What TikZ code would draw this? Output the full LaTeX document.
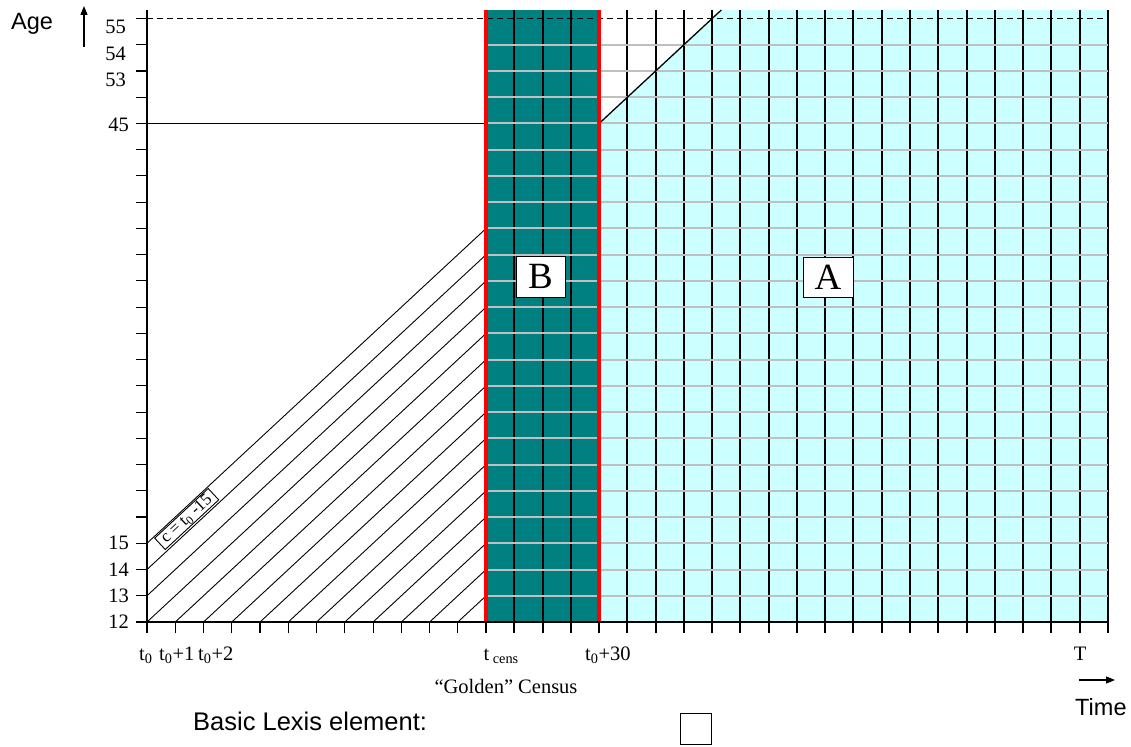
\documentclass[tikz,border=0pt]{standalone}
\usepackage{fontspec}
\setmainfont{Liberation Serif}
\newfontfamily\arialfam{Liberation Sans}
\usetikzlibrary{arrows.meta}
\definecolor{tealB}{HTML}{008080}
\definecolor{cyanA}{HTML}{CCFFFF}
\definecolor{gridgray}{HTML}{C0C0C0}
\definecolor{censred}{HTML}{FF0000}
\newcommand\fsTimes{\fontsize{20.5}{20.5}\selectfont}
\newcommand\fsArial{\arialfam\fontsize{23.5}{23.5}\selectfont}
\begin{document}
\begin{tikzpicture}[x=1pt,y=-1pt,
  tlab/.style={font=\fsTimes, inner sep=0pt},
  alab/.style={font=\fsArial, inner sep=0pt},
  gline/.style={draw=gridgray, line width=2pt},
  vline/.style={draw=black, line width=1.5pt},
  hatch/.style={draw=black, line width=0.9pt},
  axisline/.style={draw=black, line width=1.3pt},
  tickline/.style={draw=black, line width=1.1pt},
  redline/.style={draw=censred, line width=4pt},
  regionlabel/.style={draw=black, fill=white, line width=0.9pt, inner sep=0pt, font=\fontsize{37}{37}\selectfont},
  arr/.style={-{Triangle[length=9pt,width=7pt]}, line width=1.3pt}]
\useasboundingbox (0,0) rectangle (1131,746);
% key coordinates
\coordinate (O) at (147,622);
\coordinate (ytop) at (147,10);
\coordinate (xend) at (1108,622);
\coordinate (cens) at (486.12,622);
\coordinate (censtop) at (486.12,10);
\coordinate (t30) at (599.16,622);
\coordinate (t30top) at (599.16,10);
\coordinate (t30a45) at (599.16,123.44);
\coordinate (diagtop) at (721.3,10);
\coordinate (a45) at (147,123.44);
\coordinate (cens45) at (486.12,123.44);
% fills
\fill[cyanA] (t30) -- (t30a45) -- (diagtop) -- (1108,10) -- (xend) -- cycle;
\fill[tealB] (censtop) rectangle (t30);
% vertical lines in right region
\foreach \j in {12,...,34} \draw[vline] ({round(147+\j*28.26)},10) -- ({round(147+\j*28.26)},633);
% gray horizontal grid lines
\foreach \k in {1,...,22} \draw[gline] (486.12,{round(622-\k*26.24)}) -- (1108,{round(622-\k*26.24)});
% x ticks on the left
\foreach \j in {0,...,11} \draw[tickline] ({147+\j*28.26},622) -- ({147+\j*28.26},633);
% hatch lines
\foreach \k in {0,...,3} \draw[hatch] (147,{622-\k*26.24}) -- (486.12,{622-(\k+12)*26.24});
\foreach \j in {1,...,11} \draw[hatch] ({147+\j*28.26},622) -- (486.12,{622-(12-\j)*26.24});
% age 45 line and diagonal
\draw[axisline, line width=1.1pt] (a45) -- (cens45);
\draw[axisline, line width=1.3pt] (t30a45) -- (diagtop);
% dashed line at 55
\draw[black, line width=1.1pt, dash pattern=on 6pt off 4pt] (147,18.5) -- (1108,18.5);
% red census lines
\draw[redline] (censtop) -- (cens);
\draw[redline, line width=3.5pt] (t30top) -- (t30);
% axes
\draw[axisline] (ytop) -- (O) -- (xend);
\foreach \k in {0,...,23} \draw[tickline] (136,{622-\k*26.24}) -- (147,{622-\k*26.24});
% y labels
\node[tlab, anchor=east] (l12) at (129,622) {12};
\node[tlab, anchor=east] (l13) at (129,595.8) {13};
\node[tlab, anchor=east] (l14) at (129,569.5) {14};
\node[tlab, anchor=east] (l15) at (129,543.3) {15};
\node[tlab, anchor=east] (l45) at (129,124.4) {45};
\node[tlab, anchor=east] (l53) at (126,80) {53};
\node[tlab, anchor=east] (l54) at (126,53.4) {54};
\node[tlab, anchor=east] (l55) at (126,27.2) {55};
% x labels
\node[tlab, anchor=base west] (xt0) at (139,660) {t\textsubscript{0}};
\node[tlab, anchor=base west] (xt1) at (159,660) {t\textsubscript{0}+1};
\node[tlab, anchor=base west] (xt2) at (198,660) {t\textsubscript{0}+2};
\node[tlab, anchor=base west] (xcens) at (483.5,660) {t\,\textsubscript{cens}};
\node[tlab, anchor=base west] (xt30) at (585,660) {t\textsubscript{0}+30};
\node[tlab, anchor=base] (xT) at (1080,660) {T};
\node[tlab, anchor=base] (golden) at (506,693) {``Golden'' Census};
% axis titles
\node[alab, anchor=base west] (age) at (11,30) {Age};
\coordinate (agearrS) at (84,47);
\coordinate (agearrE) at (84,6);
\draw[arr] (agearrS) -- (agearrE);
\node[alab, anchor=base west] (time) at (1075,715) {Time};
\coordinate (timearrS) at (1079,680);
\coordinate (timearrE) at (1115,680);
\draw[arr] (timearrS) -- (timearrE);
% region labels
\node[regionlabel, minimum width=49pt, minimum height=41pt] (B) at (540.5,276.5) {B};
\node[regionlabel, minimum width=50pt, minimum height=40pt] (A) at (828,277) {A};
% cohort label
\node[draw=black, fill=white, line width=0.9pt, rotate=42.88, inner xsep=2pt, inner ysep=0pt, minimum height=15.5pt, minimum width=73pt, font=\fontsize{17}{17}\selectfont] (clabel) at (186.7,519) {c = t\textsubscript{0} -15};
% legend
\node[alab, font=\arialfam\fontsize{25.5}{25.5}\selectfont, anchor=base west] (legend) at (193,730) {Basic Lexis element:};
\node[draw=black, line width=1pt, minimum width=31pt, minimum height=31pt, inner sep=0pt] (lexis) at (695.5,728.5) {};
\end{tikzpicture}
\end{document}
